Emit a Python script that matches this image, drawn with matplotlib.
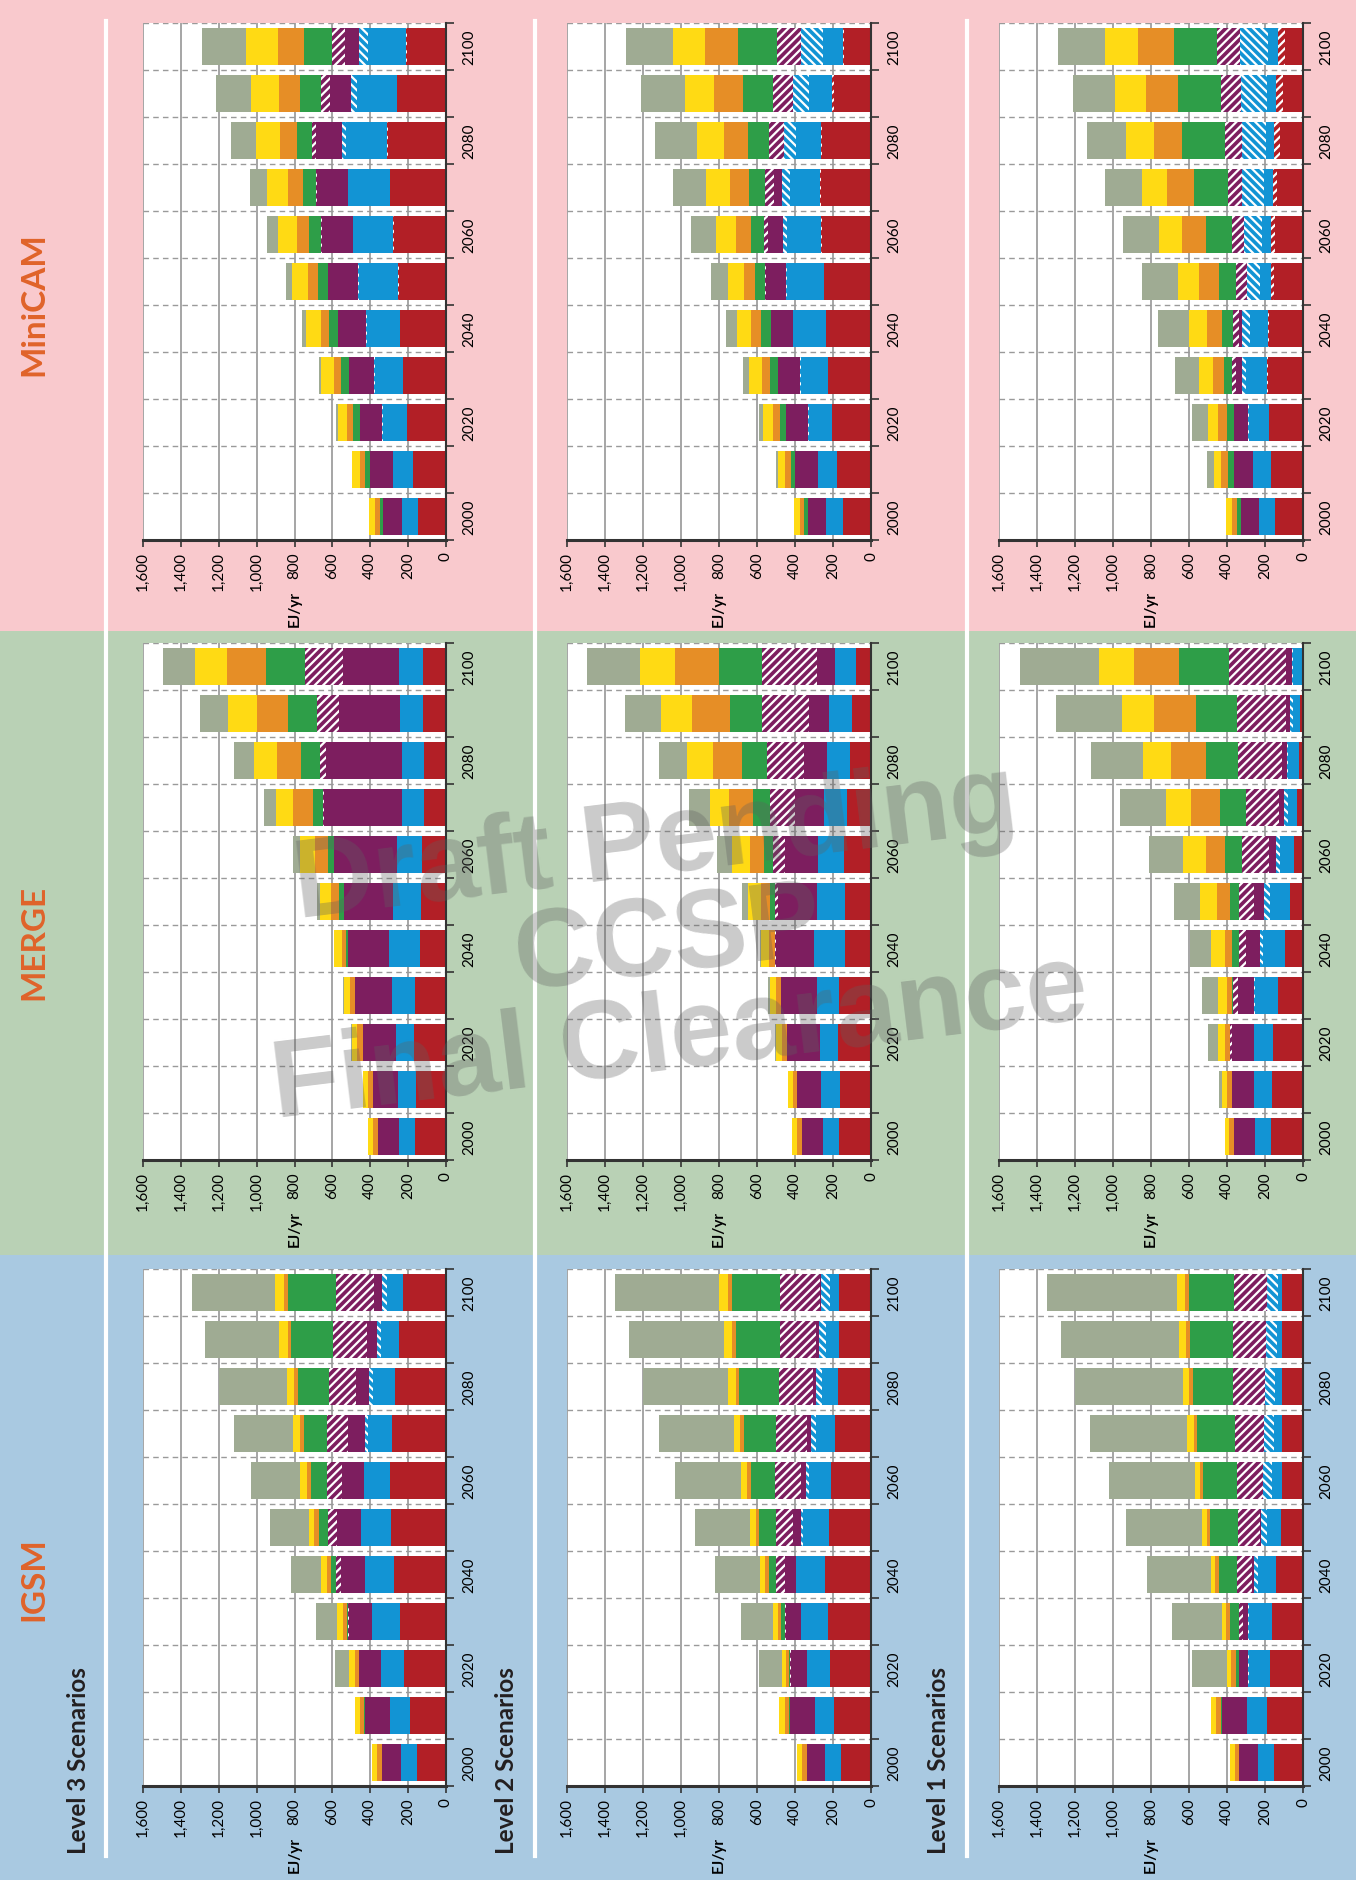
import numpy as np
import matplotlib
matplotlib.use("Agg")
import matplotlib.pyplot as plt
from matplotlib.patches import Rectangle
from matplotlib.lines import Line2D

plt.rcParams['font.family'] = ['Lato', 'DejaVu Sans']
plt.rcParams['hatch.linewidth'] = 1.6

years = [2000, 2010, 2020, 2030, 2040, 2050, 2060, 2070, 2080, 2090, 2100]
sources = ["Oil", "Oil w/ CCS", "Coal", "Coal w/ CCS", "Natural gas", "Natural gas w/ CCS",
           "Nuclear", "Hydro", "Wind & solar", "Commercial biomass"]
colors = ["#B21F26", "#B21F26", "#1294D4", "#1294D4", "#7D1E5F", "#7D1E5F",
          "#2E9E48", "#E68E26", "#FFDA14", "#9FAB93"]
hatches = [None, "////", None, "\\\\\\\\", None, "////", None, None, None, None]

models = ["MiniCAM", "MERGE", "IGSM"]
levels = ["Level 3 Scenarios", "Level 2 Scenarios", "Level 1 Scenarios"]

# primary energy, EJ/yr; one row per year, columns in the order of `sources`
minicam_l3 = [
    [148, 0, 84, 0, 100, 0, 18, 25, 32, 0],
    [174, 0, 105, 0, 121, 0, 26, 26, 42, 5],
    [206, 0, 128, 3, 119, 0, 37, 32, 47, 11],
    [227, 0, 149, 3, 134, 0, 42, 37, 69, 11],
    [243, 0, 176, 3, 146, 0, 51, 42, 79, 21],
    [249, 3, 209, 3, 158, 3, 53, 53, 84, 32],
    [276, 3, 211, 3, 163, 3, 63, 63, 100, 58],
    [295, 0, 220, 3, 163, 3, 70, 79, 111, 90],
    [306, 3, 218, 21, 137, 21, 79, 90, 127, 132],
    [257, 3, 209, 32, 111, 47, 111, 111, 148, 185],
    [206, 3, 202, 47, 74, 72, 144, 137, 169, 237],
]
minicam_l2 = [
    [149, 0, 89, 0, 95, 0, 21, 21, 32, 0],
    [180, 0, 100, 0, 121, 0, 21, 32, 37, 10],
    [207, 0, 121, 3, 116, 3, 28, 37, 53, 21],
    [228, 0, 142, 3, 116, 3, 38, 42, 68, 32],
    [238, 0, 170, 3, 114, 3, 49, 53, 74, 58],
    [247, 3, 191, 4, 110, 4, 53, 58, 84, 89],
    [259, 3, 180, 21, 79, 21, 68, 79, 105, 131],
    [263, 5, 158, 42, 42, 47, 84, 100, 126, 173],
    [257, 5, 133, 63, 0, 79, 110, 126, 142, 221],
    [194, 12, 121, 84, 0, 105, 158, 152, 152, 231],
    [142, 7, 105, 112, 0, 130, 205, 173, 168, 247],
]
minicam_l1 = [
    [149, 0, 84, 0, 95, 0, 21, 26, 32, 0],
    [170, 0, 95, 0, 100, 0, 32, 32, 42, 32],
    [180, 0, 105, 5, 74, 0, 37, 47, 53, 84],
    [186, 3, 110, 21, 32, 21, 42, 58, 74, 126],
    [180, 5, 95, 42, 16, 32, 58, 79, 95, 163],
    [154, 16, 58, 68, 0, 58, 89, 105, 110, 189],
    [149, 21, 47, 95, 0, 63, 137, 126, 121, 189],
    [138, 21, 47, 116, 0, 74, 179, 142, 131, 194],
    [123, 32, 42, 126, 0, 89, 226, 147, 147, 205],
    [107, 37, 47, 137, 0, 105, 226, 168, 163, 221],
    [96, 33, 56, 147, 0, 121, 226, 189, 173, 247],
]
merge_l3 = [
    [165, 0, 84, 0, 110, 0, 0, 26, 26, 0],
    [159, 0, 95, 0, 131, 0, 0, 26, 26, 0],
    [170, 0, 95, 0, 173, 0, 0, 32, 26, 5],
    [165, 0, 121, 0, 194, 0, 0, 26, 32, 5],
    [138, 0, 163, 0, 215, 0, 10, 21, 42, 5],
    [133, 0, 147, 0, 257, 0, 26, 42, 58, 16],
    [128, 0, 131, 0, 330, 3, 32, 68, 79, 37],
    [117, 0, 116, 0, 411, 7, 53, 105, 89, 63],
    [117, 0, 116, 0, 399, 32, 100, 131, 121, 105],
    [123, 0, 121, 0, 320, 116, 152, 168, 152, 147],
    [123, 0, 126, 0, 296, 198, 205, 210, 168, 168],
]
merge_l2 = [
    [168, 0, 84, 0, 110, 0, 0, 26, 26, 0],
    [163, 0, 100, 0, 126, 0, 0, 21, 26, 0],
    [173, 0, 95, 0, 173, 0, 0, 26, 32, 5],
    [168, 0, 116, 0, 189, 0, 0, 26, 32, 10],
    [137, 0, 163, 0, 200, 5, 0, 32, 42, 5],
    [137, 0, 147, 0, 205, 16, 26, 47, 68, 32],
    [142, 0, 137, 0, 173, 63, 47, 74, 95, 79],
    [126, 0, 121, 0, 152, 131, 89, 126, 105, 110],
    [110, 0, 121, 0, 121, 194, 131, 152, 142, 147],
    [100, 0, 121, 0, 105, 247, 168, 200, 163, 189],
    [79, 0, 110, 0, 95, 289, 226, 231, 184, 279],
]
merge_l1 = [
    [167, 0, 84, 0, 110, 0, 0, 26, 26, 0],
    [161, 0, 95, 0, 116, 0, 0, 26, 26, 16],
    [156, 0, 100, 0, 116, 10, 0, 26, 37, 53],
    [130, 0, 121, 5, 84, 26, 10, 26, 47, 84],
    [93, 0, 116, 16, 74, 37, 37, 37, 74, 110],
    [67, 0, 105, 32, 53, 79, 47, 68, 89, 137],
    [47, 0, 72, 21, 37, 142, 89, 105, 116, 184],
    [32, 0, 47, 19, 26, 174, 137, 153, 132, 242],
    [21, 0, 58, 5, 26, 232, 168, 184, 147, 274],
    [16, 0, 37, 14, 21, 258, 216, 221, 168, 347],
    [5, 0, 47, 5, 30, 305, 263, 237, 184, 416],
]
igsm_l3 = [
    [154, 0, 84, 0, 99, 0, 0, 26, 26, 0],
    [190, 0, 105, 0, 131, 0, 5, 21, 31, 0],
    [222, 0, 120, 0, 120, 0, 0, 21, 31, 73],
    [243, 0, 147, 0, 120, 5, 10, 21, 31, 110],
    [274, 0, 152, 0, 131, 26, 26, 21, 31, 157],
    [290, 0, 157, 0, 131, 47, 47, 26, 26, 204],
    [295, 0, 136, 3, 117, 79, 84, 21, 37, 257],
    [284, 0, 126, 16, 89, 115, 120, 21, 37, 309],
    [269, 0, 115, 21, 68, 147, 162, 21, 37, 359],
    [248, 0, 94, 21, 52, 183, 220, 16, 47, 393],
    [227, 0, 84, 26, 42, 204, 251, 21, 47, 440],
]
igsm_l2 = [
    [158, 0, 84, 0, 95, 0, 0, 26, 26, 0],
    [195, 0, 100, 0, 132, 0, 5, 21, 32, 0],
    [216, 0, 121, 0, 84, 4, 4, 16, 26, 116],
    [226, 0, 142, 0, 79, 8, 21, 16, 26, 168],
    [242, 0, 153, 0, 58, 47, 37, 21, 26, 237],
    [221, 0, 137, 8, 47, 89, 89, 16, 32, 289],
    [210, 0, 116, 16, 26, 137, 126, 21, 32, 347],
    [189, 0, 100, 26, 21, 163, 168, 21, 32, 395],
    [174, 0, 84, 32, 16, 179, 210, 16, 42, 447],
    [168, 0, 68, 37, 16, 189, 232, 21, 42, 500],
    [168, 0, 47, 47, 5, 210, 253, 21, 47, 547],
]
igsm_l1 = [
    [154, 0, 84, 0, 100, 0, 0, 21, 26, 0],
    [191, 0, 105, 0, 131, 0, 5, 26, 26, 0],
    [175, 0, 110, 4, 47, 0, 16, 26, 21, 184],
    [164, 0, 121, 5, 26, 21, 47, 21, 21, 262],
    [143, 0, 94, 21, 10, 79, 94, 21, 21, 336],
    [117, 0, 73, 31, 5, 115, 147, 16, 26, 399],
    [112, 0, 52, 47, 0, 136, 178, 16, 26, 456],
    [112, 0, 42, 52, 0, 152, 199, 16, 37, 509],
    [112, 0, 37, 52, 0, 168, 210, 21, 31, 567],
    [112, 0, 26, 58, 0, 173, 226, 21, 37, 619],
    [112, 0, 21, 58, 0, 173, 236, 21, 42, 682],
]

panels = [
    [minicam_l3, minicam_l2, minicam_l1],
    [merge_l3, merge_l2, merge_l1],
    [igsm_l3, igsm_l2, igsm_l1],
]

W, H = 1356, 1881
fig = plt.figure(figsize=(W / 100, H / 100), dpi=100)


def fx(px):
    return px / W


def fy(py):
    return 1 - py / H


# model bands, top to bottom
bands = [(0, 632, "#F9C9CD"), (632, 1256, "#B9D1B5"), (1256, 1881, "#A9C9E1")]
for top, bot, col in bands:
    fig.add_artist(Rectangle((0, fy(bot)), 1, (bot - top) / H, transform=fig.transFigure,
                             facecolor=col, edgecolor="none", zorder=-5))

# white rules between the level titles and their panels
for x in [106, 535, 967]:
    fig.add_artist(Line2D([fx(x), fx(x)], [fy(22), fy(1857)], transform=fig.transFigure,
                          color="white", lw=3, zorder=-4))

col_x = [(143, 446), (567, 871), (999, 1303)]
row_y = [(24, 541), (644, 1161), (1270, 1787)]
band_mid = [304, 942, 1579]
level_x = [78, 506, 938]

ypos = np.arange(len(years))
xt = np.arange(0, 1601, 200)

for r in range(3):
    for c in range(3):
        x0, x1 = col_x[c]
        y0, y1 = row_y[r]
        ax = fig.add_axes([fx(x0), fy(y1), (x1 - x0) / W, (y1 - y0) / H])
        ax.set_facecolor("white")
        data = np.array(panels[r][c], dtype=float)
        left = np.zeros(len(years))
        for k in range(len(sources)):
            vals = data[:, k]
            if hatches[k]:
                ax.barh(ypos, vals, left=left, height=0.77, facecolor=colors[k],
                        edgecolor="white", hatch=hatches[k], linewidth=0, label=sources[k])
            else:
                ax.barh(ypos, vals, left=left, height=0.77, color=colors[k],
                        linewidth=0, label=sources[k])
            left += vals

        ax.set_xlim(1600, 0)
        ax.set_ylim(-0.5, 10.5)
        ax.set_xticks(xt, labels=[f"{v:,}" for v in xt], rotation=90)
        ax.tick_params(axis="x", direction="out", length=5, width=1.2, color="#333333",
                       pad=3, labelsize=11)
        ax.grid(axis="x", color="#8d8d8d", lw=1.1)

        ax.set_yticks(np.arange(-0.5, 11, 1), minor=True)
        ax.set_yticks(ypos[::2], labels=[str(y) for y in years[::2]], rotation=90, va="center")
        ax.yaxis.tick_right()
        ax.tick_params(axis="y", which="major", length=0, pad=12, labelsize=11)
        ax.tick_params(axis="y", which="minor", length=6, width=1.2, color="#333333")
        ax.grid(axis="y", which="minor", color="#9a9a9a", lw=1, ls=(0, (4, 3)))
        ax.set_axisbelow(True)

        ax.spines["left"].set_visible(False)
        ax.spines["top"].set_visible(False)
        ax.spines["right"].set(color="#333333", lw=1.5)
        ax.spines["bottom"].set(color="#333333", lw=2.2)
        ax.text(0.5, -68 / (y1 - y0), "EJ/yr", transform=ax.transAxes, rotation=90,
                ha="center", va="center", fontweight="bold", fontsize=11)

for r, name in enumerate(models):
    fig.text(fx(34), fy(band_mid[r]), name, rotation=90, ha="center", va="center",
             fontsize=24, fontweight="bold", color="#E0632A")

for c, name in enumerate(levels):
    fig.text(fx(level_x[c]), fy(1854), name, rotation=90, ha="center", va="bottom",
             fontsize=17.5, fontweight="bold", color="#231F20")

fig.text(fx(668), fy(942), "Draft Pending\nCCSP\nFinal Clearance", rotation=7,
         rotation_mode="anchor", ha="center", va="center", multialignment="center",
         fontsize=80, fontweight="bold", family=["Liberation Sans", "DejaVu Sans"],
         color="#606060", alpha=0.33, linespacing=0.92, zorder=10)

fig.savefig("out.png", dpi=100)
